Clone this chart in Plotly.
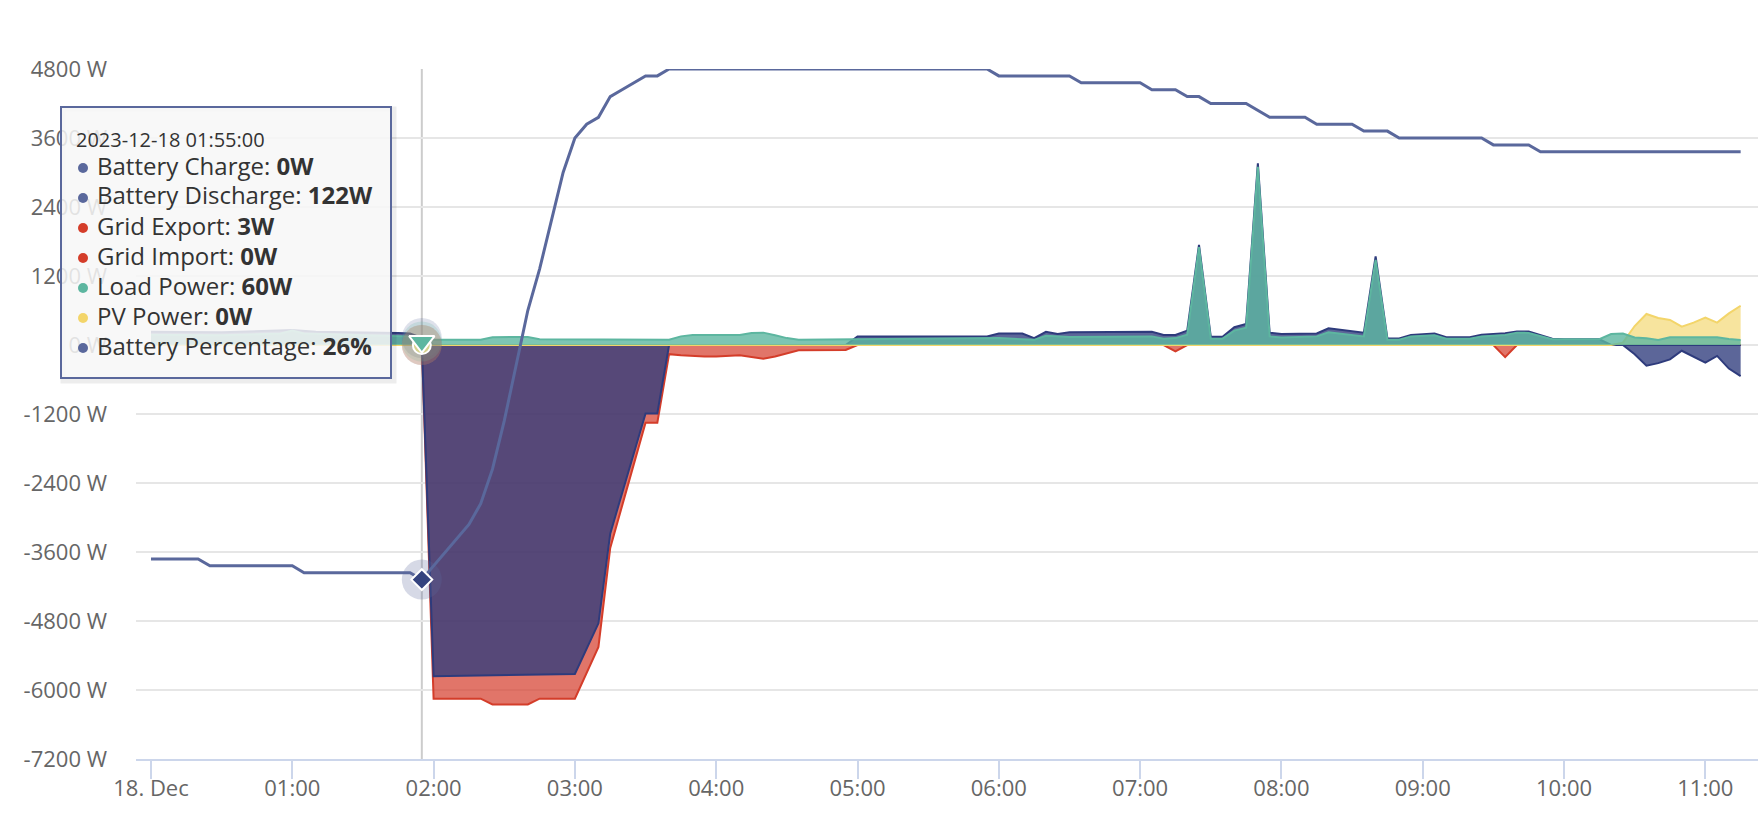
import numpy as np
import plotly.graph_objects as go

DAY = "2023-12-18 "

# axis ticks
hour_ticks = ["00:00", "01:00", "02:00", "03:00", "04:00", "05:00",
              "06:00", "07:00", "08:00", "09:00", "10:00", "11:00"]
hour_labels = ["18. Dec", "01:00", "02:00", "03:00", "04:00", "05:00",
               "06:00", "07:00", "08:00", "09:00", "10:00", "11:00"]
watt_ticks = [-7200, -6000, -4800, -3600, -2400, -1200, 0, 1200, 2400, 3600, 4800]
watt_labels = ["-7200 W", "-6000 W", "-4800 W", "-3600 W", "-2400 W", "-1200 W",
               "0 W", "1200 W", "2400 W", "3600 W", "4800 W"]

# Battery Discharge (W)
discharge_times = ["00:00", "00:30", "01:00", "01:10", "01:45", "01:50", "01:55", "02:00",
                   "04:55", "05:00", "05:55", "06:00", "06:10", "06:15", "06:20", "06:25",
                   "06:30", "07:05", "07:10", "07:15", "07:20", "07:25", "07:30", "07:35",
                   "07:40", "07:45", "07:50", "07:55", "08:00", "08:15", "08:20", "08:35",
                   "08:40", "08:45", "08:50", "08:55", "09:05", "09:10", "09:20", "09:25",
                   "09:35", "09:40", "09:45", "09:55", "10:00", "10:15", "10:20", "11:15"]
discharge_values = [230, 220, 260, 230, 210, 200, 122, 0,
                    0, 150, 150, 200, 200, 120, 230, 190,
                    220, 230, 175, 175, 250, 1740, 145, 145,
                    310, 365, 3160, 215, 190, 200, 290, 215,
                    1540, 115, 115, 175, 200, 135, 135, 180,
                    205, 235, 235, 110, 100, 100, 0, 0]

# Battery Charge (W, drawn negative) - two charging periods
charge_night_times = ["01:55", "02:00", "03:00", "03:10", "03:15", "03:30", "03:35", "03:40"]
charge_night_values = [0, -5760, -5720, -4840, -3280, -1190, -1190, 0]
charge_day_times = ["10:20", "10:25", "10:30", "10:35", "10:40", "10:45", "10:50",
                    "10:55", "11:00", "11:05", "11:10", "11:15"]
charge_day_values = [0, 0, -160, -360, -315, -250, -100, -205, -305, -190, -410, -540]

# Grid Export (W)
export_times = ["00:00", "01:50", "01:55", "02:00", "11:15"]
export_values = [0, 0, 3, 0, 0]

# Grid Import (W, drawn negative)
import_times = ["00:00", "01:55", "02:00", "02:20", "02:25", "02:40", "02:45", "03:00",
                "03:10", "03:15", "03:30", "03:35", "03:40", "03:45", "03:55", "04:00",
                "04:10", "04:20", "04:25", "04:30", "04:35", "04:55", "05:00", "07:10",
                "07:15", "07:20", "09:30", "09:35", "09:40", "11:15"]
import_values = [0, 0, -6150, -6150, -6250, -6250, -6150, -6150,
                 -5250, -3530, -1350, -1350, -160, -180, -200, -200,
                 -180, -240, -200, -140, -90, -85, 0, 0,
                 -110, 0, 0, -210, 0, 0]

# Load Power (W)
load_times = ["00:00", "00:30", "00:55", "01:00", "01:05", "01:30", "01:50", "01:55",
              "02:00", "02:20", "02:25", "02:40", "02:45", "03:40", "03:45", "03:50",
              "04:10", "04:15", "04:20", "04:25", "04:30", "04:35", "05:00", "06:00",
              "06:15", "06:20", "06:30", "07:05", "07:10", "07:15", "07:20", "07:25",
              "07:30", "07:35", "07:40", "07:45", "07:50", "07:55", "08:00", "08:15",
              "08:20", "08:35", "08:40", "08:45", "08:50", "08:55", "09:05", "09:10",
              "09:20", "09:25", "09:35", "09:40", "09:45", "09:50", "09:55", "10:15",
              "10:20", "10:25", "10:30", "10:35", "10:40", "10:45", "11:05", "11:10", "11:15"]
load_values = [180, 170, 200, 250, 200, 170, 150, 60,
               90, 90, 135, 140, 100, 90, 150, 175,
               175, 210, 215, 170, 120, 90, 100, 120,
               90, 160, 140, 150, 110, 120, 180, 1700,
               110, 110, 250, 300, 3100, 150, 130, 150,
               220, 150, 1480, 90, 90, 150, 170, 110,
               110, 150, 175, 215, 210, 150, 100, 100,
               190, 200, 130, 116, 87, 133, 133, 104, 87]

# PV Power (W)
pv_times = ["00:00", "10:20", "10:25", "10:30", "10:35", "10:40", "10:45", "10:50",
            "10:55", "11:00", "11:05", "11:10", "11:15"]
pv_values = [0, 0, 40, 330, 540, 470, 435, 320, 390, 475, 390, 550, 683]

# Battery Percentage (%)
pct_times = ["00:00", "00:20", "00:25", "01:00", "01:05", "01:50", "01:55", "02:00",
             "02:05", "02:10", "02:15", "02:20", "02:25", "02:30", "02:35", "02:40",
             "02:45", "02:50", "02:55", "03:00", "03:05", "03:10", "03:15", "03:20",
             "03:25", "03:30", "03:35", "03:40", "05:55", "06:00", "06:30", "06:35",
             "07:00", "07:05", "07:15", "07:20", "07:25", "07:30", "07:45", "07:50",
             "07:55", "08:10", "08:15", "08:30", "08:35", "08:45", "08:50", "09:25",
             "09:30", "09:45", "09:50", "11:15"]
pct_values = [29, 29, 28, 28, 27, 27, 26, 28,
              30, 32, 34, 37, 42, 49, 57, 65,
              71, 78, 85, 90, 92, 93, 96, 97,
              98, 99, 99, 100, 100, 99, 99, 98,
              98, 97, 97, 96, 96, 95, 95, 94,
              93, 93, 92, 92, 91, 91, 90, 90,
              89, 89, 88, 88]

HOVER = "01:55"

NAVY = "#2e3b7c"
NAVY_FILL = "rgba(46,59,124,0.78)"
BLUE = "#5a689c"
RED = "#d43d2a"
RED_FILL = "rgba(214,64,47,0.72)"
TEAL = "#5db6a0"
TEAL_FILL = "rgba(93,182,160,0.8)"
YELLOW = "#f3d56a"
YELLOW_FILL = "rgba(243,213,106,0.65)"
FONT = "Open Sans"


def stamp(times):
    return [DAY + t for t in times]


def minutes(t):
    h, m = t.split(":")
    return int(h) * 60 + int(m)


def value_at(times, values, t):
    return float(np.interp(minutes(t), [minutes(x) for x in times], values))


def area(times, values, line, fill):
    return go.Scatter(x=stamp(times), y=values, mode="lines", fill="tozeroy",
                      line=dict(color=line, width=2), fillcolor=fill,
                      hoverinfo="skip", showlegend=False)


fig = go.Figure()
fig.add_trace(area(export_times, export_values, RED, RED_FILL))
fig.add_trace(area(import_times, import_values, RED, RED_FILL))
fig.add_trace(area(discharge_times, discharge_values, NAVY, NAVY_FILL))
fig.add_trace(area(charge_night_times, charge_night_values, NAVY, NAVY_FILL))
fig.add_trace(area(charge_day_times, charge_day_values, NAVY, NAVY_FILL))
fig.add_trace(area(pv_times, pv_values, YELLOW, YELLOW_FILL))
fig.add_trace(area(load_times, load_values, TEAL, TEAL_FILL))
fig.add_trace(go.Scatter(x=stamp(pct_times), y=pct_values, yaxis="y2", mode="lines",
                         line=dict(color=BLUE, width=3), hoverinfo="skip", showlegend=False))

# values under the crosshair
charge_now = value_at(charge_night_times, charge_night_values, HOVER)
discharge_now = value_at(discharge_times, discharge_values, HOVER)
export_now = value_at(export_times, export_values, HOVER)
import_now = value_at(import_times, import_values, HOVER)
load_now = value_at(load_times, load_values, HOVER)
pv_now = value_at(pv_times, pv_values, HOVER)
pct_now = value_at(pct_times, pct_values, HOVER)

# hover halos and markers
for val, col, op in [(charge_now, BLUE, 0.2), (discharge_now, BLUE, 0.2), (export_now, RED, 0.08),
                     (import_now, RED, 0.08), (load_now, TEAL, 0.2), (pv_now, YELLOW, 0.12)]:
    fig.add_trace(go.Scatter(x=[DAY + HOVER], y=[val], mode="markers",
                             marker=dict(size=40, color=col, opacity=op),
                             hoverinfo="skip", showlegend=False))
fig.add_trace(go.Scatter(x=[DAY + HOVER], y=[pv_now], mode="markers",
                         marker=dict(size=18, color="#d6d28e", line=dict(color="white", width=2)),
                         hoverinfo="skip", showlegend=False))
fig.add_trace(go.Scatter(x=[DAY + HOVER], y=[load_now], mode="markers",
                         marker=dict(size=22, symbol="triangle-down", color=TEAL,
                                     line=dict(color="white", width=2)),
                         hoverinfo="skip", showlegend=False))
fig.add_trace(go.Scatter(x=[DAY + HOVER], y=[pct_now], yaxis="y2", mode="markers",
                         marker=dict(size=40, color=BLUE, opacity=0.25),
                         hoverinfo="skip", showlegend=False))
fig.add_trace(go.Scatter(x=[DAY + HOVER], y=[pct_now], yaxis="y2", mode="markers",
                         marker=dict(size=16, symbol="diamond", color="#34437f",
                                     line=dict(color="white", width=2)),
                         hoverinfo="skip", showlegend=False))

# plot area in pixels: left 136, right 1758, top 69, bottom 759
def px_x(px):
    return (px - 136) / 1622


def px_y(py):
    return (759 - py) / 690


shapes = [
    dict(type="line", layer="between", xref="x", yref="paper", x0=DAY + HOVER, x1=DAY + HOVER,
         y0=0, y1=1, line=dict(color="#cccccc", width=2)),
    dict(type="rect", xref="paper", yref="paper", x0=px_x(63), x1=px_x(394), y0=px_y(381), y1=px_y(109),
         line=dict(color="rgba(0,0,0,0.07)", width=5), fillcolor="rgba(0,0,0,0)"),
    dict(type="rect", xref="paper", yref="paper", x0=px_x(61), x1=px_x(391), y0=px_y(378), y1=px_y(107),
         line=dict(color=BLUE, width=2), fillcolor="rgba(247,247,247,0.86)"),
]

rows = [("Battery Charge", charge_now, "W", BLUE),
        ("Battery Discharge", discharge_now, "W", BLUE),
        ("Grid Export", export_now, "W", RED),
        ("Grid Import", import_now, "W", RED),
        ("Load Power", load_now, "W", TEAL),
        ("PV Power", pv_now, "W", YELLOW),
        ("Battery Percentage", pct_now, "%", BLUE)]

annotations = [dict(xref="paper", yref="paper", x=px_x(74), y=px_y(139), xanchor="left", yanchor="middle",
                    text="2023-12-18 01:55:00", showarrow=False,
                    font=dict(family=FONT, size=20, color="#333333"))]
for i, (name, val, unit, col) in enumerate(rows):
    cy = 168 + i * 30.0
    shapes.append(dict(type="circle", xref="paper", yref="paper",
                       x0=px_x(78), x1=px_x(88), y0=px_y(cy + 5), y1=px_y(cy - 5),
                       line=dict(width=0), fillcolor=col))
    annotations.append(dict(xref="paper", yref="paper", x=px_x(95), y=px_y(cy - 3),
                            xanchor="left", yanchor="middle", showarrow=False,
                            text=f"{name}: <b>{abs(val):.0f}{unit}</b>",
                            font=dict(family=FONT, size=24, color="#333333")))

fig.update_layout(
    width=1758, height=822,
    margin=dict(l=136, r=0, t=69, b=63),
    paper_bgcolor="white", plot_bgcolor="white",
    font=dict(family=FONT, color="#666666"),
    xaxis=dict(type="date", range=["2023-12-17 23:53:38", "2023-12-18 11:22:22"],
               tickvals=stamp(hour_ticks), ticktext=hour_labels,
               tickfont=dict(size=22, color="#666666"), ticklabelstandoff=-9,
               showgrid=False, showline=True, linecolor="#ccd6eb", linewidth=2,
               ticks="outside", ticklen=18, tickwidth=2, tickcolor="#ccd6eb"),
    yaxis=dict(range=[-7200, 4800], tickvals=watt_ticks, ticktext=watt_labels,
               tickfont=dict(size=22, color="#666666"), ticklabelstandoff=28,
               showgrid=True, gridcolor="#e6e6e6", gridwidth=2, zeroline=False, showline=False),
    yaxis2=dict(range=[0, 100], overlaying="y", visible=False),
    shapes=shapes,
    annotations=annotations,
    showlegend=False,
)

fig.write_html("out.html", config={"displayModeBar": False},
               post_script="document.body.style.margin='0';document.body.style.overflow='hidden';")
